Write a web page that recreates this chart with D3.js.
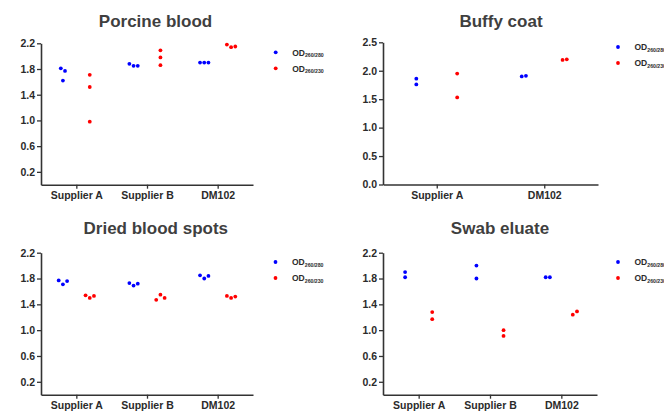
<!DOCTYPE html>
<html>
<head>
<meta charset="utf-8">
<script src="https://cdn.jsdelivr.net/npm/d3@7"></script>
<style>
  body { margin: 0; background: #fff; }
  svg { display: block; font-family: "Liberation Sans", Arial, Helvetica, sans-serif; }
</style>
</head>
<body>
<svg id="chart" width="664" height="411"></svg>
<script>
// Sample groups
const categoriesThree = ["Supplier A", "Supplier B", "DM102"];
const categoriesTwo = ["Supplier A", "DM102"];

// Series: absorbance ratios
const seriesKeys = ["260/280", "260/230"];
const seriesColors = ["#0000ff", "#ff0000"];

// Y tick values
const ticksTo22 = [0.2, 0.6, 1.0, 1.4, 1.8, 2.2];
const ticksTo25 = [0.0, 0.5, 1.0, 1.5, 2.0, 2.5];

// Replicate measurements per group (one inner array per category)
const porcine260280 = [[1.81, 1.77, 1.62], [1.88, 1.85, 1.85], [1.90, 1.90, 1.90]];
const porcine260230 = [[1.71, 1.52, 0.98], [2.09, 1.98, 1.86], [2.18, 2.14, 2.15]];

const buffy260280 = [[1.86, 1.76], [1.90, 1.91]];
const buffy260230 = [[1.95, 1.53], [2.19, 2.20]];

const driedSpots260280 = [[1.77, 1.71, 1.76], [1.73, 1.69, 1.72], [1.85, 1.80, 1.84]];
const driedSpots260230 = [[1.54, 1.50, 1.53], [1.47, 1.55, 1.50], [1.53, 1.50, 1.52]];

const swab260280 = [[1.90, 1.82], [2.00, 1.80], [1.82, 1.82]];
const swab260230 = [[1.28, 1.17], [1.00, 0.91], [1.24, 1.29]];

const svg = d3.select("#chart");

const AXIS_COLOR = "#333";
const TEXT_COLOR = "#2b2b2b";
const TITLE_COLOR = "#3f3f3f";
const DOT_R = 1.9;

// Spread points that would overlap vertically into a small horizontal row
function dodge(values, y, gap, minDist) {
  const order = values.map((_, i) => i).sort((a, b) => values[a] - values[b]);
  const offsets = new Array(values.length).fill(0);
  let cluster = [order[0]];
  const flush = () => {
    cluster.sort((a, b) => a - b);
    cluster.forEach((k, j) => { offsets[k] = (j - (cluster.length - 1) / 2) * gap; });
  };
  for (let j = 1; j < order.length; j++) {
    if (Math.abs(y(values[order[j]]) - y(values[order[j - 1]])) < minDist) {
      cluster.push(order[j]);
    } else {
      flush();
      cluster = [order[j]];
    }
  }
  flush();
  return offsets;
}

function drawPanel(p) {
  const g = svg.append("g");

  const x = d3.scalePoint().domain(p.categories).range(p.xRange).padding(0.5);
  const y = d3.scaleLinear().domain(p.yDomain).range(p.yRange);
  const inner = d3.scalePoint().domain(seriesKeys)
    .range([-x.step() * 0.19, x.step() * 0.19]);

  // Title
  g.append("text")
    .attr("x", p.titleX).attr("y", p.titleY)
    .attr("text-anchor", "middle")
    .attr("font-size", 17).attr("font-weight", "bold")
    .attr("fill", TITLE_COLOR)
    .text(p.title);

  // Axes
  const xAxis = d3.axisBottom(x).tickSize(4).tickSizeOuter(0).tickPadding(3);
  const gx = g.append("g")
    .attr("transform", `translate(0,${p.yRange[0]})`)
    .call(xAxis);

  const yAxis = d3.axisLeft(y)
    .tickValues(p.yTicks)
    .tickFormat(d3.format(".1f"))
    .tickSize(4).tickSizeOuter(0).tickPadding(2);
  const gy = g.append("g")
    .attr("transform", `translate(${p.xRange[0]},0)`)
    .call(yAxis);

  [gx, gy].forEach(a => {
    a.attr("font-family", null).attr("font-size", null);
    a.select(".domain").attr("stroke", AXIS_COLOR).attr("stroke-width", 1.6);
    a.selectAll(".tick line").attr("stroke", AXIS_COLOR).attr("stroke-width", 1.3);
    a.selectAll(".tick text")
      .attr("fill", TEXT_COLOR)
      .attr("font-size", 10.5)
      .attr("font-weight", "bold");
  });

  // Points
  p.series.forEach((groups, s) => {
    groups.forEach((vals, ci) => {
      const offs = dodge(vals, y, 4.2, 4.6);
      const cx = x(p.categories[ci]) + inner(seriesKeys[s]);
      g.append("g").selectAll("circle")
        .data(vals)
        .join("circle")
        .attr("cx", (d, i) => cx + offs[i])
        .attr("cy", d => y(d))
        .attr("r", DOT_R)
        .attr("fill", seriesColors[s]);
    });
  });

  // Legend
  seriesKeys.forEach((k, s) => {
    const ly = p.legendY + s * 16;
    g.append("circle")
      .attr("cx", p.legendX).attr("cy", ly)
      .attr("r", DOT_R).attr("fill", seriesColors[s]);
    const t = g.append("text")
      .attr("x", p.legendX + 16.5).attr("y", ly + 3.2)
      .attr("font-size", 8.5).attr("font-weight", "bold")
      .attr("fill", TEXT_COLOR);
    t.append("tspan").text("OD");
    t.append("tspan").attr("dy", 1.5).attr("font-size", 5.2).text(k);
  });
}

drawPanel({
  title: "Porcine blood",
  categories: categoriesThree,
  series: [porcine260280, porcine260230],
  yDomain: [0, 2.2], yTicks: ticksTo22,
  xRange: [41, 253], yRange: [184.7, 43.3],
  titleX: 155.5, titleY: 27,
  legendX: 275.7, legendY: 52.3
});

drawPanel({
  title: "Buffy coat",
  categories: categoriesTwo,
  series: [buffy260280, buffy260230],
  yDomain: [0, 2.5], yTicks: ticksTo25,
  xRange: [383, 598], yRange: [184.5, 42.3],
  titleX: 501, titleY: 26.5,
  legendX: 618, legendY: 47
});

drawPanel({
  title: "Dried blood spots",
  categories: categoriesThree,
  series: [driedSpots260280, driedSpots260230],
  yDomain: [0, 2.2], yTicks: ticksTo22,
  xRange: [41, 253], yRange: [394.7, 252.7],
  titleX: 155.8, titleY: 234,
  legendX: 275.5, legendY: 262
});

drawPanel({
  title: "Swab eluate",
  categories: categoriesThree,
  series: [swab260280, swab260230],
  yDomain: [0, 2.2], yTicks: ticksTo22,
  xRange: [383, 597], yRange: [394.7, 252.7],
  titleX: 500, titleY: 234,
  legendX: 618, legendY: 262
});
</script>
</body>
</html>
